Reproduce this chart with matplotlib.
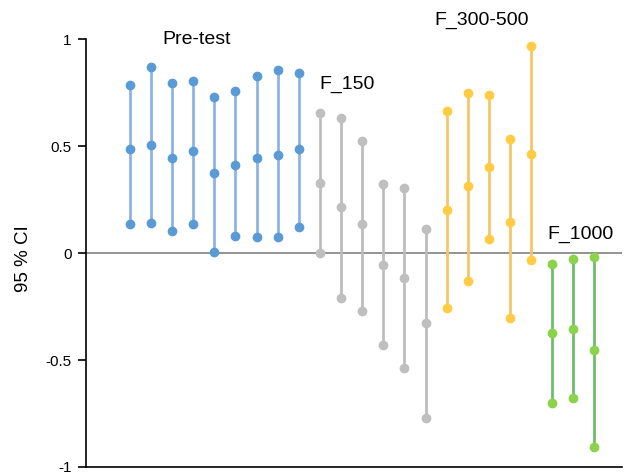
import matplotlib
matplotlib.use("Agg")
import matplotlib.pyplot as plt

plt.rcParams["font.family"] = ["Liberation Sans", "DejaVu Sans"]

groups = ["Pre-test", "F_150", "F_300-500", "F_1000"]
upper = [
    [0.784, 0.871, 0.794, 0.802, 0.727, 0.757, 0.826, 0.855, 0.840],
    [0.656, 0.631, 0.525, 0.323, 0.306, 0.114],
    [0.663, 0.748, 0.738, 0.535, 0.966],
    [-0.052, -0.028, -0.017],
]
middle = [
    [0.488, 0.503, 0.443, 0.478, 0.373, 0.410, 0.445, 0.460, 0.488],
    [0.329, 0.214, 0.136, -0.056, -0.117, -0.328],
    [0.201, 0.314, 0.403, 0.143, 0.462],
    [-0.372, -0.353, -0.452],
]
lower = [
    [0.136, 0.140, 0.103, 0.134, 0.005, 0.080, 0.073, 0.075, 0.120],
    [-0.002, -0.211, -0.270, -0.428, -0.536, -0.770],
    [-0.259, -0.131, 0.067, -0.302, -0.033],
    [-0.700, -0.679, -0.907],
]
line_colors = ["#8DB4E6", "#BDBDBD", "#F5C56A", "#6EBE6A"]
marker_colors = ["#5B9BD5", "#BFBFBF", "#FFCC44", "#8CD24A"]
label_pos = [(3.17, 1.0), (10.3, 0.788), (16.65, 1.088), (21.33, 0.086)]

fig = plt.figure(figsize=(6.25, 4.73), dpi=100)
ax = fig.add_axes([0.1376, 0.0127, 0.8574, 0.9048])

x0 = 0
for g in range(len(groups)):
    n = len(upper[g])
    xs = list(range(x0, x0 + n))
    for i, x in enumerate(xs):
        ax.plot([x, x], [lower[g][i], upper[g][i]], color=line_colors[g], lw=2, zorder=2)
        ax.plot([x, x, x], [lower[g][i], middle[g][i], upper[g][i]], 'o', color=marker_colors[g],
                ms=6, zorder=3, clip_on=False)
    x0 += n
    lx, ly = label_pos[g]
    ax.text(lx, ly, groups[g], ha="center", va="center", fontsize=14, clip_on=False)

ax.axhline(0, color="#808080", lw=1.2, zorder=1)
ax.set_xlim(-2.08, 23.3)
ax.set_ylim(-1, 1)
ax.set_yticks([-1, -0.5, 0, 0.5, 1])
ax.set_yticklabels(["-1", "-0.5", "0", "0.5", "1"], fontsize=11)
ax.set_xticks([])
ax.spines["top"].set_visible(False)
ax.spines["right"].set_visible(False)
ax.spines["left"].set_linewidth(1.2)
ax.spines["bottom"].set_linewidth(1.2)
ax.tick_params(axis="y", direction="out", length=6, width=1.2, pad=4.5)
ax.set_ylabel("95 % CI", fontsize=13.5)
ax.yaxis.set_label_coords(-0.101, 0.486)
fig.savefig("out.png", dpi=100)
